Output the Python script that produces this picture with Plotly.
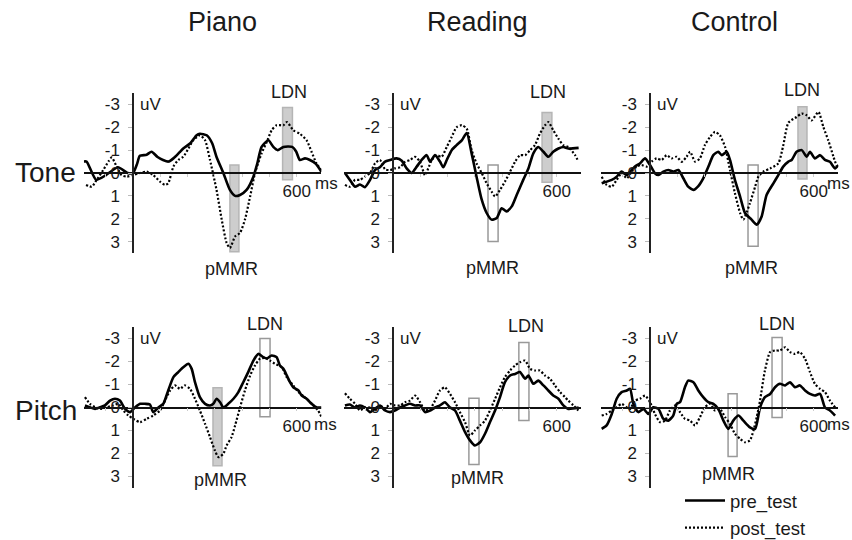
import plotly.graph_objects as go

# ---- data (ms, uV; negative plotted up) ----
TONE_PIANO_PRE_T = [-180, -170, -135, -100, -55, -20, 0, 15, 25, 50, 68, 90, 110, 130, 148, 170, 184, 210, 233, 245,
                    270, 290, 306, 331, 355, 374, 392, 416, 441, 455, 471, 496, 514, 530, 551, 583, 598, 611, 630,
                    648, 670, 690]
TONE_PIANO_PRE_UV = [-0.5, -0.5, 0.3, 0.1, -0.25, 0.0, 0.0, -0.4, -0.75, -0.8, -0.93, -0.7, -0.57, -0.5, -0.64, -0.9,
                     -1.07, -1.3, -1.65, -1.72, -1.65, -1.3, -0.7, 0.0, 0.74, 1.0, 0.96, 0.74, 0.16, -0.4, -1.14,
                     -1.43, -1.14, -1.0, -1.14, -1.14, -0.93, -0.57, -0.64, -0.57, -0.4, -0.05]
TONE_PIANO_POST_T = [-172, -151, -133, -109, -90, -78, -60, -42, -23, 0, 26, 50, 74, 99, 117, 129, 148, 166, 184,
                     203, 221, 245, 264, 282, 306, 325, 343, 355, 374, 392, 410, 429, 447, 471, 490, 508, 526, 551,
                     564, 587, 611, 636, 654, 672, 690]
TONE_PIANO_POST_UV = [0.52, 0.6, 0.3, -0.13, -0.5, -0.68, -0.28, 0.09, 0.16, 0.09, 0.0, -0.06, 0.09, 0.38, 0.52,
                      0.45, -0.28, -0.57, -0.71, -1.07, -1.43, -1.65, -1.43, -0.57, 0.74, 2.04, 3.06, 3.28, 2.78,
                      2.62, 2.04, 1.03, 0.0, -0.86, -1.36, -1.87, -2.09, -2.09, -2.23, -1.87, -1.72, -1.43, -0.93,
                      -0.42, -0.13]

TONE_READING_PRE_T = [-176, -158, -139, -121, -103, -84, -66, -48, -29, -11, 13, 32, 50, 68, 87, 105, 123, 136, 154,
                      172, 184, 197, 215, 233, 252, 270, 288, 306, 325, 343, 361, 380, 398, 416, 435, 453, 477, 496,
                      514, 532, 551, 569, 587, 606, 624, 642, 680]
TONE_READING_PRE_UV = [0.0, 0.3, 0.6, 0.5, 0.62, 0.3, -0.13, -0.25, -0.5, -0.57, -0.64, -0.54, -0.2, 0.0, -0.28,
                       -0.57, -0.78, -0.5, -0.78, -0.5, -0.25, -0.57, -1.0, -1.22, -1.43, -1.75, -0.86, 0.16, 1.17,
                       1.75, 2.04, 1.97, 1.54, 1.68, 1.46, 0.96, 0.3, -0.2, -0.86, -1.14, -0.93, -0.71, -0.93,
                       -1.07, -1.14, -1.07, -1.1]
TONE_READING_POST_T = [-176, -158, -139, -121, -103, -84, -66, -48, -29, -11, 7, 26, 44, 62, 81, 99, 117, 129, 142,
                       160, 178, 197, 215, 233, 252, 270, 288, 306, 325, 343, 361, 374, 392, 410, 429, 447, 465, 484,
                       502, 520, 538, 557, 569, 587, 606, 624, 642, 667, 679]
TONE_READING_POST_UV = [0.52, 0.6, 0.3, 0.3, 0.16, 0.0, -0.42, -0.57, -0.16, -0.13, -0.2, -0.25, -0.49, -0.57,
                        -0.71, -0.49, 0.1, -0.2, -0.57, -0.78, -0.71, -1.14, -1.58, -2.0, -2.09, -1.94, -1.0, -0.42,
                        0.0, 0.45, 0.81, 1.03, 0.74, 0.38, -0.06, -0.49, -0.78, -0.78, -1.0, -1.22, -1.72, -2.09,
                        -2.23, -1.87, -1.5, -1.22, -1.14, -0.78, -0.5]

TONE_CONTROL_PRE_T = [-177, -159, -140, -122, -104, -85, -73, -55, -37, -18, 0, 18, 31, 49, 67, 85, 104, 122, 140,
                      159, 177, 195, 214, 232, 250, 263, 281, 293, 311, 330, 348, 372, 391, 409, 427, 452, 470, 488,
                      507, 519, 537, 556, 574, 586, 604, 623, 641, 659, 678, 690]
TONE_CONTROL_PRE_UV = [0.45, 0.38, 0.3, 0.16, -0.06, 0.09, -0.06, -0.28, -0.42, -0.64, -0.35, 0.01, 0.09, -0.06,
                       -0.13, -0.06, -0.13, 0.23, 0.6, 0.74, 0.57, 0.23, -0.28, -0.78, -0.93, -0.78, -0.93, -0.57,
                       0.3, 1.03, 1.75, 2.04, 2.26, 1.9, 0.96, 0.45, 0.09, -0.28, -0.5, -0.57, -0.93, -1.0, -0.71,
                       -0.93, -0.64, -0.78, -0.57, -0.49, -0.2, -0.35]
TONE_CONTROL_POST_T = [-177, -159, -140, -122, -104, -85, -67, -49, -31, -12, 6, 24, 43, 61, 79, 98, 116, 134, 147,
                       165, 183, 201, 220, 238, 256, 275, 293, 311, 330, 342, 366, 385, 397, 415, 440, 470, 488, 507,
                       537, 556, 574, 592, 617, 635, 653, 672, 684]
TONE_CONTROL_POST_UV = [0.16, 0.52, 0.6, 0.3, 0.01, 0.23, -0.06, -0.28, -0.35, -0.28, -0.5, -0.64, -0.57, -0.78,
                        -0.64, -0.71, -0.49, -0.71, -0.93, -0.5, -0.64, -1.22, -1.58, -1.8, -1.65, -1.14, -0.13,
                        0.88, 1.75, 2.04, 1.32, 0.6, 0.16, -0.06, -0.2, -0.42, -1.2, -2.2, -2.45, -2.6, -2.52, -2.3,
                        -2.67, -2.01, -1.43, -0.71, -0.28]

PITCH_PIANO_PRE_T = [-176, -158, -139, -121, -103, -84, -66, -48, -29, -11, 7, 26, 44, 62, 74, 93, 111, 129, 148,
                     166, 184, 203, 215, 227, 245, 264, 282, 294, 306, 319, 331, 349, 368, 386, 404, 422, 441, 459,
                     477, 490, 508, 526, 538, 551, 563, 575, 587, 606, 618, 636, 654, 673, 691]
PITCH_PIANO_PRE_UV = [-0.09, -0.01, 0.06, -0.01, -0.09, -0.3, -0.38, -0.3, 0.06, 0.2, 0.0, -0.16, -0.16, -0.13, 0.2,
                      0.0, -0.16, -0.74, -1.32, -1.54, -1.75, -1.9, -1.68, -1.1, -0.45, -0.16, -0.09, -0.16, -0.38,
                      -0.23, 0.0, -0.16, -0.38, -0.67, -1.1, -1.54, -2.04, -2.33, -2.19, -2.13, -2.26, -2.19, -1.83,
                      -1.68, -1.4, -1.1, -0.88, -0.74, -0.52, -0.38, -0.16, 0.0, 0.0]
PITCH_PIANO_POST_T = [-176, -158, -139, -121, -96, -72, -54, -35, -17, 1, 26, 50, 74, 99, 117, 136, 154, 172, 190,
                      209, 227, 245, 264, 282, 300, 313, 331, 343, 361, 374, 392, 410, 429, 447, 465, 484, 502, 520,
                      545, 563, 587, 606, 636, 660, 678, 691]
PITCH_PIANO_POST_UV = [-0.45, -0.16, -0.01, 0.06, -0.01, -0.09, -0.16, 0.13, 0.35, 0.49, 0.64, 0.49, 0.35, 0.13,
                       -0.3, -0.74, -0.96, -0.81, -0.96, -0.81, -0.38, 0.13, 0.71, 1.29, 1.87, 2.16, 2.01, 1.65, 1.29,
                       0.78, 0.0, -0.74, -1.39, -1.83, -2.12, -2.16, -2.04, -1.9, -1.75, -1.32, -0.96, -0.67, -0.38,
                       -0.1, 0.13, 0.42]

PITCH_READING_PRE_T = [-176, -158, -139, -121, -103, -84, -66, -48, -29, -11, 7, 26, 44, 62, 81, 99, 117, 136, 154,
                       172, 190, 209, 227, 245, 264, 282, 300, 319, 337, 355, 374, 392, 410, 429, 447, 465, 484, 496,
                       514, 532, 551, 569, 587, 606, 624, 642, 680]
PITCH_READING_PRE_UV = [-0.09, -0.13, 0.0, -0.09, 0.0, 0.2, 0.06, -0.09, 0.13, 0.2, 0.13, 0.0, -0.09, -0.16, -0.09,
                        -0.09, 0.2, 0.13, 0.0, -0.09, -0.23, 0.0, 0.13, 0.57, 1.07, 1.43, 1.65, 1.51, 1.14, 0.64,
                        0.13, -0.45, -1.1, -1.39, -1.46, -1.54, -1.25, -1.39, -1.03, -1.17, -0.96, -0.74, -0.52,
                        -0.38, -0.09, 0.06, 0.0]
PITCH_READING_POST_T = [-176, -158, -139, -121, -103, -84, -66, -48, -29, -11, 7, 26, 44, 62, 81, 99, 117, 136, 154,
                        172, 190, 209, 227, 245, 264, 282, 300, 319, 337, 355, 374, 392, 410, 429, 447, 465, 484, 502,
                        520, 538, 557, 575, 593, 612, 630, 642, 660, 679]
PITCH_READING_POST_UV = [-0.62, -0.38, -0.16, 0.13, 0.0, 0.0, 0.13, -0.09, 0.06, -0.16, -0.09, -0.09, -0.23, -0.3,
                         -0.52, -0.23, 0.13, 0.06, -0.3, -0.74, -0.88, -0.59, -0.23, 0.2, 0.64, 1.22, 1.0, 0.78, 0.57,
                         0.13, -0.38, -0.88, -1.32, -1.61, -1.83, -1.97, -2.04, -1.68, -1.61, -1.61, -1.39, -1.25,
                         -0.96, -0.67, -0.45, -0.3, -0.1, 0.13]

PITCH_CONTROL_PRE_T = [-177, -159, -140, -122, -104, -85, -73, -61, -43, -24, -6, 12, 31, 49, 67, 85, 98, 110, 128,
                       140, 159, 177, 195, 214, 232, 250, 269, 287, 305, 324, 342, 366, 385, 403, 421, 440, 458, 476,
                       495, 513, 531, 549, 568, 586, 604, 623, 641, 659, 678]
PITCH_CONTROL_PRE_UV = [0.93, 0.78, 0.28, -0.38, -0.67, -0.74, -0.81, -0.16, 0.2, 0.06, 0.28, -0.01, 0.06, 0.49,
                        0.57, 0.35, -0.16, -0.23, -0.88, -1.17, -1.1, -0.74, -0.45, -0.23, -0.16, 0.06, 0.57, 0.93,
                        0.57, 0.35, 0.57, 0.86, 0.93, 0.0, -0.45, -0.59, -0.88, -1.03, -0.96, -1.1, -0.88, -0.96,
                        -0.74, -0.59, -0.52, -0.59, 0.0, 0.13, 0.35]
PITCH_CONTROL_POST_T = [-177, -159, -140, -122, -104, -85, -73, -55, -37, -18, 0, 18, 37, 55, 73, 92, 110, 128, 147,
                        165, 183, 201, 220, 238, 256, 275, 293, 311, 330, 348, 366, 379, 391, 403, 421, 440, 458, 476,
                        495, 513, 531, 549, 568, 586, 604, 623, 641, 659, 678]
PITCH_CONTROL_POST_UV = [0.35, 0.28, 0.13, -0.01, -0.16, -0.01, 0.06, -0.3, -0.38, -0.52, -0.23, 0.28, 0.64, 0.57,
                         0.13, -0.09, 0.2, 0.49, 0.57, 0.78, 0.42, -0.01, -0.16, 0.13, 0.06, 0.42, 0.71, 1.14, 1.36,
                         1.51, 1.43, 1.0, 0.42, -0.3, -1.61, -2.41, -2.48, -2.48, -2.62, -2.41, -2.33, -2.41, -2.12,
                         -1.54, -1.03, -0.81, -0.67, -0.3, 0.0]

PANELS = [
    (TONE_PIANO_PRE_T, TONE_PIANO_PRE_UV, TONE_PIANO_POST_T, TONE_PIANO_POST_UV),
    (TONE_READING_PRE_T, TONE_READING_PRE_UV, TONE_READING_POST_T, TONE_READING_POST_UV),
    (TONE_CONTROL_PRE_T, TONE_CONTROL_PRE_UV, TONE_CONTROL_POST_T, TONE_CONTROL_POST_UV),
    (PITCH_PIANO_PRE_T, PITCH_PIANO_PRE_UV, PITCH_PIANO_POST_T, PITCH_PIANO_POST_UV),
    (PITCH_READING_PRE_T, PITCH_READING_PRE_UV, PITCH_READING_POST_T, PITCH_READING_POST_UV),
    (PITCH_CONTROL_PRE_T, PITCH_CONTROL_PRE_UV, PITCH_CONTROL_POST_T, PITCH_CONTROL_POST_UV),
]

# analysis windows (ms) and their amplitude extent (uV)
PMMR_WIN = [(355, 388), (348, 385), (359, 396), (293, 326), (278, 315), (286, 319)]
PMMR_AMP = [(-0.35, 3.45), (-0.35, 3.0), (-0.35, 3.2), (-0.86, 2.53), (-0.4, 2.48), (-0.6, 2.13)]
PMMR_SIG = [True, False, False, True, False, False]
LDN_WIN = [(548, 584), (546, 582), (542, 575), (465, 502), (461, 498), (447, 484)]
LDN_AMP = [(-2.87, 0.3), (-2.65, 0.4), (-2.9, 0.26), (-3.0, 0.4), (-2.83, 0.57), (-3.04, 0.43)]
LDN_SIG = [True, True, True, False, False, False]

PMMR_LABEL = [(362, 4.2), (366, 4.15), (373, 4.15), (319, 3.15), (308, 3.05), (289, 2.9)]
LDN_LABEL = [(571, -3.55), (568, -3.55), (556, -3.62), (484, -3.65), (487, -3.55), (465, -3.65)]
MS_LABEL = {0: (707, 0.44), 2: (689, 0.44), 3: (705, 0.76), 5: (692, 0.76)}

COLUMNS = ['Piano', 'Reading', 'Control']
ROWS = ['Tone', 'Pitch']
Y_TICKS = [-3, -2, -1, 0, 1, 2, 3]
Y_TICK_TEXT = ['-3', '-2', '-1', '0', '1', '2', '3']
X_TICKS = [-100, 100, 200, 300, 400, 500, 600]
X_TICK_TEXT = ['', '', '', '', '', '', '600']

# ---- geometry ----
W, H = 852, 540
FONT = 'Arial, Liberation Sans, sans-serif'
T_RANGE = [-180, 690]
Y_RANGE = [3.5, -3.5]
PX_PER_MS = 0.273
COL_ZERO_PX = [133, 393, 650]
ROW_PX = [(93, 253), (327, 488)]


def y_dom(uv):
    """uV value -> fraction of the (reversed) y-axis domain."""
    return (Y_RANGE[0] - uv) / (Y_RANGE[0] - Y_RANGE[1])


def x_dom(ms):
    """ms value -> fraction of the x-axis domain (lets labels sit past the last sample)."""
    return (ms - T_RANGE[0]) / (T_RANGE[1] - T_RANGE[0])


fig = go.Figure()
layout = dict(
    width=W, height=H,
    margin=dict(l=0, r=0, t=0, b=0, autoexpand=False),
    paper_bgcolor='white', plot_bgcolor='rgba(0,0,0,0)',
    font=dict(family=FONT, size=17, color='#1a1a1a'),
    showlegend=True,
    legend=dict(x=680 / W, y=1 - 482 / H, xanchor='left', yanchor='top',
                font=dict(size=18.5, color='#1a1a1a'), bgcolor='rgba(0,0,0,0)',
                tracegroupgap=0, itemwidth=40),
)
shapes = []
annotations = []

for i, (pre_t, pre_v, post_t, post_v) in enumerate(PANELS):
    r, c = divmod(i, 3)
    n = '' if i == 0 else str(i + 1)
    x0 = (COL_ZERO_PX[c] + T_RANGE[0] * PX_PER_MS) / W
    x1 = (COL_ZERO_PX[c] + T_RANGE[1] * PX_PER_MS) / W
    top, bot = ROW_PX[r]
    y0, y1 = 1 - bot / H, 1 - top / H
    zero_x = COL_ZERO_PX[c] / W

    layout['xaxis' + n] = dict(
        domain=[x0, x1], range=T_RANGE, anchor='free', position=(y0 + y1) / 2, automargin=False,
        showline=True, linecolor='#111', linewidth=1.5, showgrid=False, zeroline=False,
        tickvals=X_TICKS, ticktext=X_TICK_TEXT, ticks='outside', ticklen=3, tickcolor='#ccc',
        ticklabelstandoff=0, tickfont=dict(size=17), fixedrange=True,
    )
    layout['yaxis' + n] = dict(
        domain=[y0, y1], range=Y_RANGE, anchor='free', position=zero_x, automargin=False,
        showline=True, linecolor='#222', linewidth=1.5, showgrid=False, zeroline=False,
        tickvals=Y_TICKS, ticktext=Y_TICK_TEXT, ticks='outside', ticklen=4, tickcolor='#bbb',
        ticklabelstandoff=5, tickfont=dict(size=17), fixedrange=True,
    )
    xr, yr = 'x' + n, 'y' + n

    for win, amp, filled in ((PMMR_WIN[i], PMMR_AMP[i], PMMR_SIG[i]), (LDN_WIN[i], LDN_AMP[i], LDN_SIG[i])):
        shapes.append(dict(
            type='rect', xref=xr, yref=yr, x0=win[0], x1=win[1], y0=amp[0], y1=amp[1], layer='below',
            fillcolor='#cdcdcd' if filled else 'rgba(0,0,0,0)',
            line=dict(color='#b5b5b5' if filled else '#999', width=1.5),
        ))

    fig.add_trace(go.Scatter(
        x=pre_t, y=pre_v, mode='lines', name='pre_test', xaxis=xr, yaxis=yr,
        line=dict(color='black', width=2.6, shape='spline', smoothing=0.6),
        showlegend=(i == 0), legendrank=1,
    ))
    fig.add_trace(go.Scatter(
        x=post_t, y=post_v, mode='lines', name='post_test', xaxis=xr, yaxis=yr,
        line=dict(color='black', width=2.2, dash='2px,2px', shape='spline', smoothing=0.6),
        showlegend=(i == 0), legendrank=2,
    ))

    xdr, ydr = xr + ' domain', yr + ' domain'
    annotations.append(dict(text='pMMR', x=x_dom(PMMR_LABEL[i][0]), y=y_dom(PMMR_LABEL[i][1]), xref=xdr, yref=ydr,
                            xanchor='center', yanchor='middle', showarrow=False, font=dict(size=18)))
    annotations.append(dict(text='LDN', x=x_dom(LDN_LABEL[i][0]), y=y_dom(LDN_LABEL[i][1]), xref=xdr, yref=ydr,
                            xanchor='center', yanchor='middle', showarrow=False, font=dict(size=18)))
    annotations.append(dict(text='uV', x=x_dom(18), y=y_dom(-3), xref=xdr, yref=ydr, xanchor='left',
                            yanchor='middle', showarrow=False, font=dict(size=17)))
    if i in MS_LABEL:
        annotations.append(dict(text='ms', x=x_dom(MS_LABEL[i][0]), y=y_dom(MS_LABEL[i][1]), xref=xdr, yref=ydr,
                                xanchor='center', yanchor='middle', showarrow=False, font=dict(size=17)))

# column titles and row labels
for txt, px in zip(COLUMNS, [222, 477, 734]):
    annotations.append(dict(text=txt, x=px / W, y=1 - 22 / H, xref='paper', yref='paper',
                            xanchor='center', yanchor='middle', showarrow=False, font=dict(size=27)))
for txt, py in zip(ROWS, [172, 410]):
    annotations.append(dict(text=txt, x=13 / W, y=1 - py / H, xref='paper', yref='paper',
                            xanchor='left', yanchor='middle', showarrow=False, font=dict(size=28)))

layout['shapes'] = shapes
layout['annotations'] = annotations
fig.update_layout(**layout)

# the page's default body margin would push the 852x540 figure out of the window
fig.write_html("out.html", config={'displayModeBar': False},
               post_script="document.body.style.margin = '0';")
